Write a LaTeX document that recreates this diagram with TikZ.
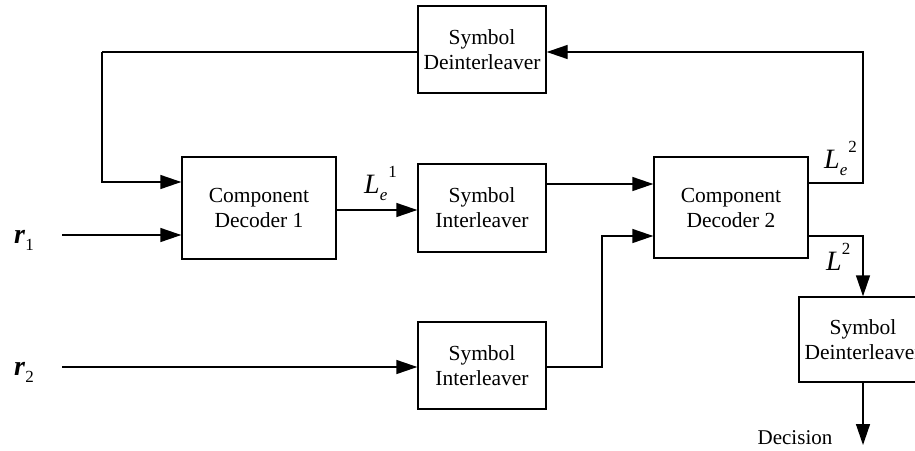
\documentclass[tikz,border=0pt]{standalone}
\usepackage{fontspec}
\setmainfont{Liberation Serif}
\usetikzlibrary{arrows.meta}

\newcommand{\smallsz}{\fontsize{17}{17}\selectfont}
\newcommand{\bigsym}{\fontsize{28}{28}\selectfont}

\begin{document}
\begin{tikzpicture}[x=1pt,y=-1pt,
  block/.style={draw,line width=1.4pt,align=center,inner sep=0pt,
    font=\fontsize{21.5}{25}\selectfont},
  conn/.style={line width=1.4pt},
  arr/.style={conn,-{Triangle[length=21pt,width=14pt]}},
  lbl/.style={inner sep=0pt,font=\bigsym}]
\useasboundingbox (0,0) rectangle (915,450);

% blocks
\node[block,minimum width=128pt,minimum height=87pt] (deintA) at (482,49.5) {Symbol\\Deinterleaver};
\node[block,minimum width=154pt,minimum height=102pt] (cdA) at (259,208) {Component\\Decoder 1};
\node[block,minimum width=128pt,minimum height=88pt] (intA) at (482,208) {Symbol\\Interleaver};
\node[block,minimum width=154pt,minimum height=101pt] (cdB) at (731,207.5) {Component\\Decoder 2};
\node[block,minimum width=128pt,minimum height=87pt] (intB) at (482,365.5) {Symbol\\Interleaver};
\node[block,minimum width=128pt,minimum height=85pt] (deintB) at (863,339.5) {Symbol\\Deinterleaver};

% free ends and bends
\coordinate (rA) at (62,235);
\coordinate (rB) at (62,367);
\coordinate (fbL) at (102,52);
\coordinate (fbR) at (863,52);
\coordinate (joinB) at (602,367);
\coordinate (dec) at (863,445);

% feedback path through the top deinterleaver
\draw[conn] (deintA.west |- fbL) -- (fbL);
\draw[arr] (fbL) |- (cdA.west |- 0,182);
\draw[arr] (cdB.east |- 0,183) -| (fbR) -- (deintA.east |- fbR);

% inputs
\draw[arr] (rA) -- (cdA.west |- rA);
\draw[arr] (rB) -- (intB.west |- rB);

% forward path
\draw[arr] (cdA.east |- 0,210) -- (intA.west |- 0,210);
\draw[arr] (intA.east |- 0,184) -- (cdB.west |- 0,184);
\draw[arr] (intB.east |- joinB) -- (joinB) |- (cdB.west |- 0,236);
\draw[arr] (cdB.east |- 0,236) -| (deintB.north);
\draw[arr] (deintB.south) -- (dec);

% labels
\node[lbl,anchor=base west] (lr1) at (14,243) {\textbf{\textit{r}}\raisebox{-0.25em}{\smallsz 1}};
\node[lbl,anchor=base west] (lr2) at (14,375) {\textbf{\textit{r}}\raisebox{-0.25em}{\smallsz 2}};
\node[lbl,anchor=base west] (lLe1) at (364,193) {\textit{L}\raisebox{-0.28em}{\smallsz\textit{e}}\hspace{1pt}\raisebox{0.55em}{\smallsz 1}};
\node[lbl,anchor=base west] (lLe2) at (824,168) {\textit{L}\raisebox{-0.28em}{\smallsz\textit{e}}\hspace{1pt}\raisebox{0.55em}{\smallsz 2}};
\node[lbl,anchor=base west] (lL2) at (826,270) {\textit{L}\raisebox{0.55em}{\smallsz 2}};
\node[inner sep=0pt,anchor=base,font=\fontsize{21}{25}\selectfont] (ldec) at (795,444) {Decision};
\end{tikzpicture}
\end{document}
